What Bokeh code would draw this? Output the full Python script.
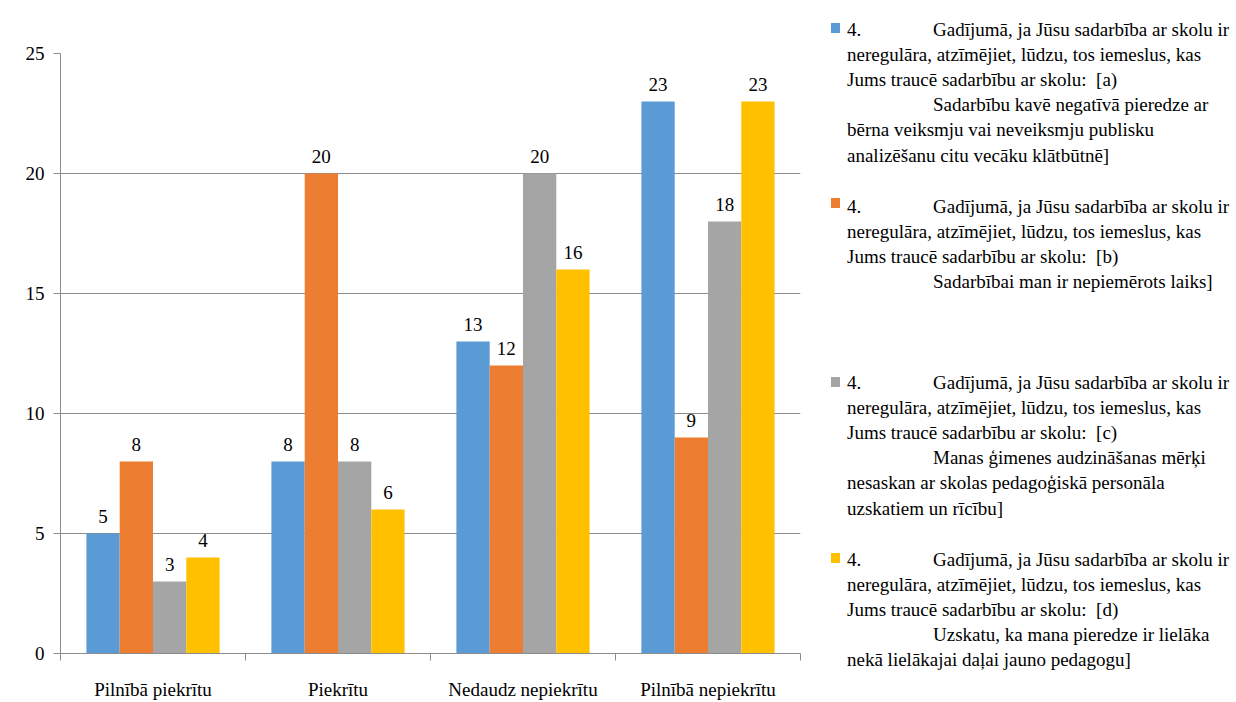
from bokeh.plotting import figure
from bokeh.models import Range1d, FixedTicker, ColumnDataSource, Div
from bokeh.layouts import row
from bokeh.embed import file_html
from bokeh.resources import INLINE
from bokeh.core.properties import value

categories = ["Pilnībā piekrītu", "Piekrītu", "Nedaudz nepiekrītu", "Pilnībā nepiekrītu"]
series_a = [5, 8, 13, 23]
series_b = [8, 20, 12, 9]
series_c = [3, 8, 20, 18]
series_d = [4, 6, 16, 23]
colors = ["#5B9BD5", "#ED7D31", "#A5A5A5", "#FFC000"]
y_ticks = [0, 5, 10, 15, 20, 25]

legend_texts = [
    ["4.|Gadījumā, ja Jūsu sadarbība ar skolu ir",
     "neregulāra, atzīmējiet, lūdzu, tos iemeslus, kas",
     "Jums traucē sadarbību ar skolu:  [a)",
     "|Sadarbību kavē negatīvā pieredze ar",
     "bērna veiksmju vai neveiksmju publisku",
     "analizēšanu citu vecāku klātbūtnē]"],
    ["4.|Gadījumā, ja Jūsu sadarbība ar skolu ir",
     "neregulāra, atzīmējiet, lūdzu, tos iemeslus, kas",
     "Jums traucē sadarbību ar skolu:  [b)",
     "|Sadarbībai man ir nepiemērots laiks]"],
    ["4.|Gadījumā, ja Jūsu sadarbība ar skolu ir",
     "neregulāra, atzīmējiet, lūdzu, tos iemeslus, kas",
     "Jums traucē sadarbību ar skolu:  [c)",
     "|Manas ģimenes audzināšanas mērķi",
     "nesaskan ar skolas pedagoģiskā personāla",
     "uzskatiem un rīcību]"],
    ["4.|Gadījumā, ja Jūsu sadarbība ar skolu ir",
     "neregulāra, atzīmējiet, lūdzu, tos iemeslus, kas",
     "Jums traucē sadarbību ar skolu:  [d)",
     "|Uzskatu, ka mana pieredze ir lielāka",
     "nekā lielākajai daļai jauno pedagogu]"],
]

FONT = "Liberation Serif"
GRID = "#8C8C8C"

H = 702
ML, MR, MT, MB = 60, 15, 53, 49
PW = ML + 740 + MR   # 815

p = figure(width=PW, height=H, output_backend="svg", toolbar_location=None,
           x_range=Range1d(0, 4), y_range=Range1d(0, 25),
           min_border_left=ML, min_border_right=MR, min_border_top=MT, min_border_bottom=MB)
p.outline_line_color = None
p.xgrid.grid_line_color = None
p.ygrid.grid_line_color = GRID
p.ygrid.ticker = FixedTicker(ticks=y_ticks)

all_series = [series_a, series_b, series_c, series_d]
offsets = [-0.27, -0.09, 0.09, 0.27]
bw = 0.18
for vals, col, off in zip(all_series, colors, offsets):
    xs = [i + 0.5 + off for i in range(len(categories))]
    src = ColumnDataSource(dict(x=xs, top=vals, lab=[str(v) for v in vals]))
    p.vbar(x="x", top="top", bottom=0, width=bw, source=src, fill_color=col, line_color=None)
    p.text(x="x", y="top", text="lab", source=src, text_align="center", text_baseline="middle",
           y_offset=-17, text_font=value(FONT), text_font_size="19px", text_color="#000000")

# axes
p.yaxis.ticker = FixedTicker(ticks=y_ticks)
p.yaxis.axis_line_color = GRID
p.yaxis.major_tick_line_color = GRID
p.yaxis.major_tick_out = 7
p.yaxis.major_tick_in = 0
p.yaxis.minor_tick_line_color = None
p.yaxis.major_label_standoff = 9
p.yaxis.major_label_text_font = FONT
p.yaxis.major_label_text_font_size = "19px"
p.yaxis.major_label_text_color = "#000000"

p.xaxis.ticker = FixedTicker(ticks=[i + 0.5 for i in range(len(categories))],
                             minor_ticks=list(range(len(categories) + 1)))
p.xaxis.major_label_overrides = {i + 0.5: c for i, c in enumerate(categories)}
p.xaxis.axis_line_color = GRID
p.xaxis.major_tick_line_color = None
p.xaxis.major_tick_out = 0
p.xaxis.major_tick_in = 0
p.xaxis.minor_tick_line_color = GRID
p.xaxis.minor_tick_out = 7
p.xaxis.minor_tick_in = 0
p.xaxis.major_label_standoff = 18
p.xaxis.major_label_text_font = FONT
p.xaxis.major_label_text_font_size = "19px"
p.xaxis.major_label_text_color = "#000000"

# legend panel (positions relative to the panel's left edge at page x = PW)
LW = 1236 - PW
entry_first_line = [24, 201, 377, 554]
marker_top = [18, 193, 372, 548]
line_h = 25.2
x_text, x_indent, x_mark = 842 - PW, 928 - PW, 826 - PW
parts = []
for k, lines in enumerate(legend_texts):
    parts.append(f'<div style="position:absolute;left:{x_mark}px;top:{marker_top[k]}px;'
                 f'width:9px;height:10px;background:{colors[k]};"></div>')
    for j, ln in enumerate(lines):
        yy = entry_first_line[k] + j * line_h
        top = yy - 12.5
        segs = []
        if "|" in ln:
            a, b = ln.split("|")
            if a:
                segs.append((x_text, a))
            segs.append((x_indent, b))
        else:
            segs.append((x_text, ln))
        for xx, t in segs:
            parts.append(f'<div style="position:absolute;left:{xx}px;top:{top:.1f}px;'
                         f'line-height:25px;white-space:pre;">{t}</div>')
html = (f'<div style="position:relative;width:{LW}px;height:{H}px;overflow:hidden;'
        f'font-family:\'{FONT}\';font-size:19px;color:#000;">' + "".join(parts) + '</div>')
legend = Div(text=html, width=LW, height=H)

layout = row(p, legend)
open("out.html", "w").write(file_html(layout, INLINE))
